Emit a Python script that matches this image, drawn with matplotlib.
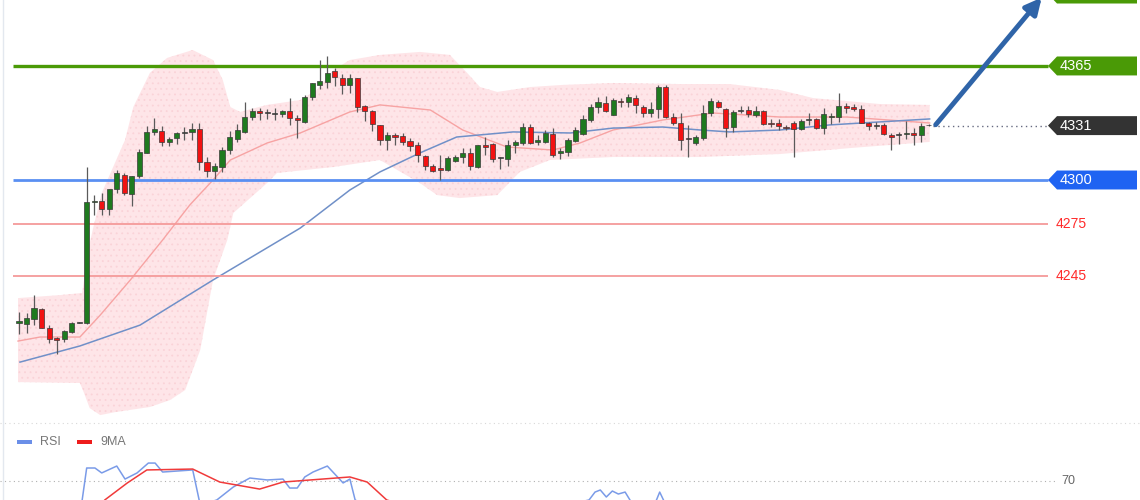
import numpy as np
import matplotlib
matplotlib.use('Agg')
import matplotlib.pyplot as plt
from matplotlib.patches import Polygon, Rectangle
from matplotlib.transforms import blended_transform_factory

plt.rcParams['font.family'] = ['Liberation Sans', 'DejaVu Sans']
plt.rcParams['hatch.linewidth'] = 0.6

# OHLC
opens = [4218.5, 4217.9, 4220.6, 4226.5, 4215.8, 4209.7, 4209.4, 4213.5, 4218.7, 4218.3,
         4287.5, 4288.3, 4283.3, 4294.7, 4302.9, 4292.0, 4302.0, 4315.6, 4327.5, 4328.1,
         4321.4, 4324.2, 4326.6, 4327.5, 4328.9, 4310.4, 4305.3, 4307.6, 4317.1, 4323.2,
         4327.5, 4336.1, 4339.3, 4338.5, 4337.6, 4337.6, 4339.5, 4335.2, 4333.2, 4347.5,
         4354.2, 4356.0, 4362.3, 4358.3, 4354.2, 4358.0, 4342.2, 4339.3, 4331.4, 4322.8,
         4325.6, 4325.1, 4322.2, 4320.0, 4313.7, 4308.0, 4307.0, 4305.7, 4311.0, 4312.9,
         4315.6, 4307.2, 4320.0, 4320.5, 4312.3, 4312.0, 4320.0, 4320.9, 4330.0, 4321.8,
         4321.8, 4326.2, 4315.2, 4316.1, 4322.4, 4326.2, 4334.2, 4341.4, 4344.0, 4337.1,
         4345.2, 4344.6, 4346.6, 4341.8, 4338.0, 4340.5, 4352.8, 4336.1, 4332.7, 4323.6,
         4320.9, 4323.8, 4338.0, 4344.6, 4340.3, 4330.4, 4339.4, 4339.9, 4337.1, 4339.5,
         4332.7, 4332.7, 4330.4, 4332.7, 4328.9, 4334.2, 4334.6, 4329.5, 4335.7, 4336.1,
         4342.2, 4341.4, 4340.3, 4332.3, 4331.4, 4331.4, 4325.6, 4325.6, 4326.1, 4326.6,
         4325.6, 4331.1]
highs = [4224.8, 4224.0, 4234.4, 4227.0, 4217.3, 4210.6, 4214.5, 4218.8, 4219.1, 4307.6,
         4291.4, 4292.6, 4295.0, 4305.7, 4304.0, 4302.5, 4317.7, 4330.8, 4335.3, 4330.8,
         4324.3, 4327.5, 4330.0, 4332.3, 4332.3, 4312.9, 4309.9, 4319.0, 4327.8, 4331.9,
         4344.6, 4340.9, 4340.9, 4340.2, 4340.9, 4340.0, 4346.9, 4337.1, 4348.7, 4355.5,
         4368.4, 4370.7, 4363.7, 4360.3, 4360.3, 4358.0, 4342.8, 4339.9, 4331.4, 4327.2,
         4326.6, 4326.6, 4323.8, 4321.8, 4314.3, 4309.1, 4314.3, 4313.7, 4314.3, 4318.1,
         4318.1, 4320.0, 4324.3, 4320.9, 4313.3, 4322.8, 4322.8, 4332.7, 4331.9, 4325.6,
         4328.5, 4329.5, 4318.1, 4323.8, 4330.4, 4337.1, 4343.3, 4347.5, 4347.9, 4346.6,
         4346.6, 4349.0, 4348.5, 4342.8, 4344.6, 4354.2, 4354.2, 4338.4, 4338.4, 4331.4,
         4325.6, 4342.8, 4346.6, 4345.6, 4340.9, 4339.9, 4342.2, 4342.2, 4342.2, 4340.0,
         4334.6, 4334.6, 4331.4, 4333.8, 4334.6, 4338.0, 4335.2, 4340.9, 4338.0, 4349.4,
         4344.0, 4343.3, 4342.8, 4333.2, 4333.2, 4332.3, 4326.6, 4327.5, 4333.8, 4329.5,
         4332.3, 4332.0]
lows = [4212.4, 4212.6, 4217.3, 4215.5, 4207.3, 4200.6, 4207.8, 4212.7, 4218.3, 4218.0,
        4280.0, 4280.0, 4280.0, 4292.4, 4291.4, 4285.4, 4301.0, 4315.3, 4325.7, 4319.4,
        4319.5, 4320.3, 4322.8, 4322.8, 4305.7, 4301.9, 4300.5, 4304.7, 4315.0, 4321.8,
        4326.6, 4334.2, 4334.2, 4335.0, 4334.2, 4335.7, 4331.4, 4323.8, 4332.7, 4345.6,
        4351.7, 4352.3, 4353.6, 4348.9, 4349.5, 4338.9, 4333.6, 4328.1, 4320.0, 4317.1,
        4320.0, 4320.0, 4316.7, 4310.4, 4305.7, 4304.7, 4300.0, 4305.3, 4310.4, 4309.9,
        4305.7, 4306.6, 4314.3, 4310.4, 4306.1, 4308.0, 4315.2, 4320.0, 4320.5, 4320.0,
        4321.3, 4313.0, 4311.8, 4313.7, 4321.8, 4325.6, 4333.2, 4338.4, 4338.9, 4337.1,
        4341.8, 4341.8, 4338.0, 4335.7, 4336.1, 4335.2, 4335.2, 4331.4, 4317.1, 4313.3,
        4320.0, 4322.8, 4336.6, 4340.9, 4324.7, 4327.5, 4338.0, 4336.1, 4336.1, 4331.4,
        4330.0, 4328.5, 4328.5, 4313.3, 4328.5, 4331.4, 4328.9, 4326.2, 4331.9, 4333.3,
        4338.0, 4339.4, 4332.3, 4328.5, 4328.9, 4325.6, 4317.1, 4320.5, 4323.2, 4320.0,
        4321.8, 4330.5]
closes = [4219.4, 4221.2, 4226.9, 4215.8, 4209.3, 4208.8, 4213.9, 4218.3, 4218.9, 4287.6,
          4288.3, 4283.3, 4294.7, 4303.8, 4292.4, 4302.0, 4316.0, 4327.5, 4328.8, 4321.8,
          4323.5, 4326.6, 4327.2, 4328.9, 4310.4, 4305.1, 4308.0, 4317.1, 4324.3, 4328.5,
          4336.1, 4339.3, 4338.0, 4338.0, 4338.2, 4339.3, 4335.2, 4334.2, 4347.5, 4355.1,
          4356.4, 4361.2, 4358.6, 4354.2, 4358.3, 4341.4, 4339.3, 4331.9, 4322.8, 4325.6,
          4324.7, 4321.5, 4319.6, 4314.3, 4308.0, 4305.3, 4305.7, 4312.4, 4313.3, 4315.6,
          4308.0, 4320.0, 4319.0, 4311.8, 4313.0, 4320.0, 4321.5, 4330.0, 4321.3, 4322.8,
          4326.6, 4314.3, 4316.5, 4322.8, 4328.5, 4334.6, 4341.4, 4344.6, 4339.5, 4345.6,
          4344.3, 4347.5, 4342.8, 4338.0, 4340.3, 4352.8, 4336.1, 4332.7, 4322.8, 4324.1,
          4324.3, 4338.0, 4345.2, 4341.4, 4329.5, 4338.9, 4339.9, 4337.6, 4339.5, 4331.9,
          4331.9, 4330.8, 4329.5, 4328.9, 4333.8, 4334.6, 4329.5, 4337.6, 4336.5, 4342.2,
          4340.9, 4340.3, 4332.7, 4330.8, 4330.8, 4326.2, 4324.3, 4326.2, 4326.9, 4325.6,
          4330.8, 4331.6]

# Bollinger band / moving averages (bar index, price) read at sample points
upper_x = [-0.13, 5.45, 8.4, 9.2, 9.8, 11.0, 14.1, 15.2, 17.4, 19.7, 23.1, 25.8, 27.1, 28.1,
           29.4, 33.0, 37.4, 39.6, 41.8, 44.0, 48.0, 53.3, 57.3, 59.6, 61.3, 63.6, 68.0,
           72.3, 79.0, 87.9, 94.5, 101.2, 105.6, 114.5, 121.1]
upper_y = [4232.7, 4234.4, 4235.6, 4260.1, 4271.5, 4292.6, 4322.8, 4341.6, 4361.0, 4369.6,
           4374.1, 4368.4, 4357.0, 4341.6, 4338.8, 4342.8, 4345.6, 4351.3, 4362.7, 4368.4,
           4371.3, 4373.0, 4371.3, 4361.0, 4353.0, 4350.2, 4353.0, 4354.2, 4355.3, 4354.7,
           4354.7, 4351.3, 4346.7, 4343.3, 4342.8]
lower_x = [-0.13, 8.1, 8.6, 9.4, 10.8, 12.8, 17.4, 20.1, 22.1, 24.1, 25.8, 27.7, 28.5, 33.0,
           34.3, 41.8, 48.0, 53.3, 55.6, 58.6, 63.6, 66.6, 70.6, 79.0, 90.6, 101.2, 110.5,
           121.1]
lower_y = [4184.8, 4184.3, 4179.1, 4170.0, 4166.0, 4167.7, 4170.6, 4174.6, 4180.3, 4203.1,
           4243.0, 4265.8, 4281.2, 4298.3, 4304.0, 4307.4, 4311.4, 4298.3, 4291.4, 4289.7,
           4291.4, 4304.6, 4311.4, 4313.1, 4313.1, 4314.8, 4318.2, 4321.7]
ma_red_x = [-0.13, 2.8, 8.1, 10.8, 14.8, 19.1, 22.7, 25.8, 28.1, 33.0, 37.4, 44.0, 48.0,
            54.7, 59.0, 64.9, 71.0, 74.6, 79.0, 85.6, 92.3, 101.2, 110.1, 121.1]
ma_red_y = [4208.2, 4210.5, 4210.5, 4223.0, 4243.0, 4265.8, 4285.7, 4300.0, 4311.4, 4321.1,
            4326.8, 4338.8, 4342.8, 4339.9, 4328.5, 4318.8, 4317.1, 4321.1, 4328.5, 4334.2,
            4338.2, 4335.9, 4335.9, 4332.5]
ma_blue_x = [0.13, 8.1, 16.1, 25.8, 30.7, 37.4, 44.0, 48.0, 53.3, 58.2, 65.7, 73.3, 79.0,
             85.6, 90.6, 94.5, 101.2, 107.8, 121.1]
ma_blue_y = [4196.2, 4205.4, 4217.3, 4243.0, 4255.5, 4272.6, 4294.3, 4304.6, 4315.4, 4324.5,
             4327.4, 4326.8, 4329.6, 4330.2, 4328.5, 4327.4, 4328.5, 4331.4, 4334.8]

# RSI panel (only the top is visible)
rsi_x = [8.4, 9.0, 10.1, 11.0, 13.0, 14.1, 15.7, 17.2, 18.1, 19.1, 23.1, 24.1, 26.3, 28.5,
         30.7, 33.0, 35.1, 36.0, 37.0, 38.0, 39.1, 41.0, 43.1, 44.0, 44.7, 50, 60, 70,
         75.8, 76.6, 77.3, 78.1, 78.9, 79.7, 80.6, 81.5, 84.6, 85.2, 85.9, 95, 110, 121]
rsi_y = [55.4, 80.0, 80.0, 76.2, 81.5, 71.5, 76.2, 83.8, 83.8, 76.9, 78.5, 51.5, 55.4, 65.4,
         72.3, 70.8, 71.5, 64.6, 64.6, 73.1, 76.9, 81.5, 68.5, 71.5, 55.4, 40, 45, 48,
         55.4, 61.5, 63.1, 57.7, 62.3, 60.0, 61.5, 53.0, 53.0, 61.5, 53.0, 45, 48, 50]
ma9_x = [9.4, 11.4, 14.4, 17.0, 23.1, 26.7, 32.0, 35.1, 44.0, 46.3, 48.9, 55, 70, 90, 121]
ma9_y = [40, 55.4, 68.5, 78.5, 79.2, 69.2, 63.8, 69.2, 73.1, 69.2, 55.4, 45, 47, 50, 49]

levels_main = [4365, 4300]
levels_minor = [4275, 4245]
last_price = 4331
top_level = 4406
target = (136.0, 4404.0)

fig = plt.figure(figsize=(11.4, 5), dpi=100)
fig.patch.set_facecolor('white')
ax = fig.add_axes([0, 80 / 500, 1, 420 / 500])
rax = fig.add_axes([0, 0, 1, 80 / 500])
xl = (-19 / 7.52, 1121 / 7.52)
for a in (ax, rax):
    a.set_xlim(*xl)
    a.axis('off')
ax.set_ylim(4163.2, 4402.6)
rax.set_ylim(55.4, 116.9)

# band
ux = np.array(upper_x)
lx = np.array(lower_x)
grid = np.union1d(ux, lx)
up = np.interp(grid, ux, upper_y)
lo = np.interp(grid, lx, lower_y)
ax.fill_between(grid, lo, up, facecolor='#fee5e8', edgecolor='#fad3d8', hatch='...',
                linewidth=0, zorder=1)
ax.plot(ma_red_x, ma_red_y, color='#f7a3a3', lw=1.0, zorder=2)
ax.plot(ma_blue_x, ma_blue_y, color='#7090c8', lw=1.1, zorder=2)

# level lines
x0, x1 = -0.8, 136.8
ax.hlines(levels_main[0], x0, x1, color='#4a9a06', lw=2.4, zorder=3)
ax.hlines(levels_main[1], x0, x1, color='#5a8ff2', lw=2.0, zorder=3)
for lv in levels_minor:
    ax.hlines(lv, x0, x1, color='#f59a9a', lw=1.3, zorder=3)
    ax.text(137.9, lv, str(lv), color='#ff2a2a', fontsize=10, va='center', ha='left')
ax.hlines(last_price, 121.5, x1, color='#666a80', lw=1.0, linestyles=(0, (1, 2.5)), zorder=3)

# candles
idx = np.arange(len(opens))
o = np.array(opens)
c = np.array(closes)
ax.vlines(idx, lows, highs, color='#5a5a5a', lw=0.9, zorder=4)
body_lo = np.minimum(o, c)
body_h = np.maximum(np.abs(c - o), 0.5)
cols = np.where(c > o + 0.7, '#1f7a1f', np.where(o > c + 0.7, '#f21212', '#4a4a4a'))
ax.bar(idx, body_h, bottom=body_lo, width=0.68, color=cols, edgecolor='#3a3a3a',
       linewidth=0.5, zorder=5)

# price tags
tr = blended_transform_factory(fig.transFigure, ax.transData)
hh = 5.4
def tag(price, fc, text=None):
    xs = np.array([1048, 1057, 1137, 1137, 1057]) / 1140
    ys = [price, price + hh, price + hh, price - hh, price - hh]
    ax.add_patch(Polygon(np.column_stack([xs, ys]), closed=True, facecolor=fc,
                         edgecolor='none', transform=tr, clip_on=False, zorder=6))
    if text:
        ax.text(1060 / 1140, price, text, transform=tr, color='white', fontsize=10.5,
                va='center', ha='left', zorder=7)

tag(top_level, '#4a9a06')
tag(levels_main[0], '#4a9a06', str(levels_main[0]))
tag(last_price, '#333333', str(last_price))
tag(levels_main[1], '#1f63f2', str(levels_main[1]))

ax.annotate('', xy=target, xytext=(121.9, 4331.5), annotation_clip=False,
            arrowprops=dict(arrowstyle='-|>', color='#2f64a8', lw=3.5, mutation_scale=24,
                            shrinkA=0, shrinkB=0), zorder=8)

# RSI panel
rax.axhline(70, xmax=1055 / 1140, color='#b0b0b0', lw=0.8, ls=(0, (1, 3)))
rax.text(1061 / 1140, 70, '70', transform=blended_transform_factory(rax.transAxes, rax.transData),
         color='#666666', fontsize=9, va='center', ha='left')
rax.plot(rsi_x, rsi_y, color='#7a9be8', lw=1.1)
rax.plot(ma9_x, ma9_y, color='#f03a3a', lw=1.1)
rax.add_patch(Rectangle((17 / 1140, 0.695), 15 / 1140, 0.05, transform=rax.transAxes,
                        facecolor='#6b8fe8', edgecolor='none'))
rax.text(40 / 1140, 0.72, 'RSI', transform=rax.transAxes, color='#777777', fontsize=9,
         va='center')
rax.add_patch(Rectangle((77 / 1140, 0.695), 15 / 1140, 0.05, transform=rax.transAxes,
                        facecolor='#ee1c1c', edgecolor='none'))
rax.text(100 / 1140, 0.72, '9MA', transform=rax.transAxes, color='#777777', fontsize=9,
         va='center')

# panel borders
fig.add_artist(plt.Line2D([3 / 1140, 3 / 1140], [0, 1], color='#e3e8ef', lw=1))
fig.add_artist(plt.Line2D([0, 1], [77 / 500, 77 / 500], color='#d8d8d8', lw=0.8,
                          ls=(0, (1, 3))))

fig.savefig('out.png', dpi=100)
